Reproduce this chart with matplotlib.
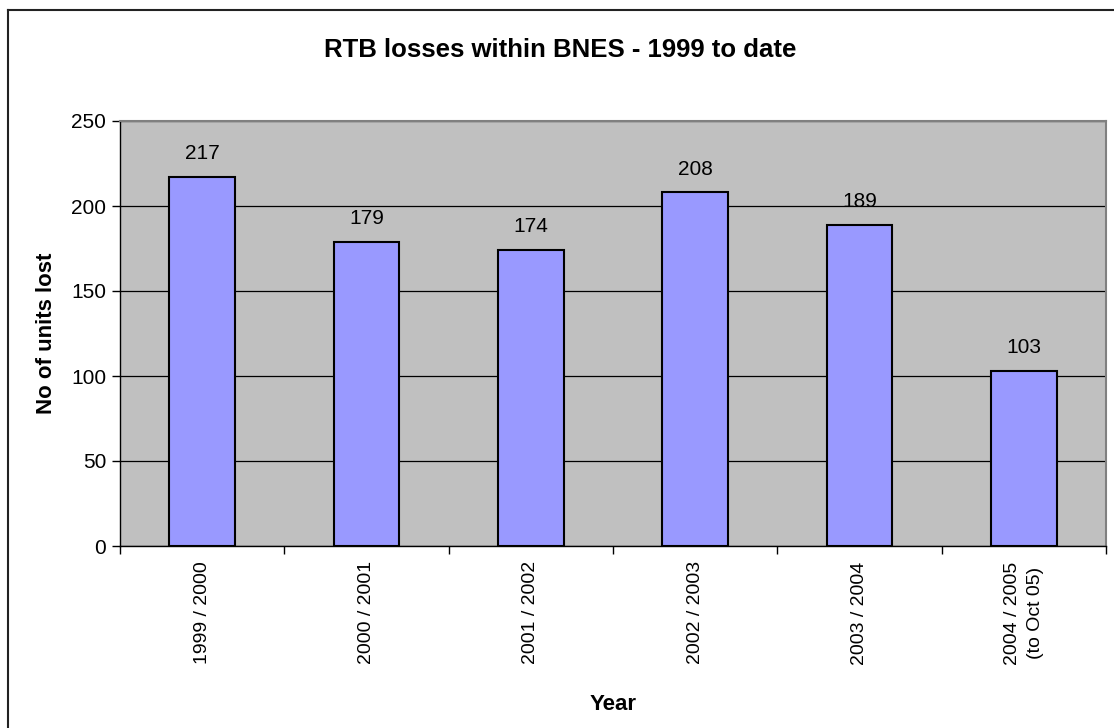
import matplotlib
matplotlib.use("Agg")
import matplotlib.pyplot as plt
from matplotlib.lines import Line2D

categories = ["1999 / 2000", "2000 / 2001", "2001 / 2002", "2002 / 2003",
              "2003 / 2004", "2004 / 2005\n(to Oct 05)"]
values = [217, 179, 174, 208, 189, 103]
yticks = [0, 50, 100, 150, 200, 250]

plt.rcParams['font.family'] = ['Liberation Sans', 'DejaVu Sans']

W, H = 1114, 728
fig = plt.figure(figsize=(W / 100, H / 100), dpi=100)
fig.patch.set_facecolor('white')

L, R, T, B = 120, 1106, 121, 546
ax = fig.add_axes([L / W, 1 - B / H, (R - L) / W, (B - T) / H])
ax.set_facecolor('#C0C0C0')

x = list(range(len(categories)))
ax.bar(x, values, width=0.4, color='#9999FF', edgecolor='black', linewidth=1.5, zorder=3)
for xi, v in zip(x, values):
    ax.annotate(str(v), (xi, v), xytext=(0, 10), textcoords='offset points',
                ha='center', va='bottom', fontsize=15)

ax.set_xlim(-0.5, len(categories) - 0.5)
ax.set_ylim(0, 250)
ax.set_yticks(yticks)
ax.set_yticklabels([str(t) for t in yticks], fontsize=15)
ax.yaxis.grid(True, color='black', linewidth=0.9, zorder=1)
ax.set_axisbelow(True)

ax.set_xticks(x)
ax.set_xticklabels(categories, rotation=90, fontsize=14, multialignment='center',
                   va='top', linespacing=1.45)
ax.tick_params(axis='x', length=0, pad=11)
ax.set_xticks([i - 0.5 for i in range(len(categories) + 1)], minor=True)
ax.tick_params(axis='x', which='minor', length=6, width=1, direction='out', color='black')
ax.tick_params(axis='y', length=6, width=1, direction='out', pad=4)

for s in ['top', 'right']:
    ax.spines[s].set_color('#808080')
    ax.spines[s].set_linewidth(1.5)
for s in ['left', 'bottom']:
    ax.spines[s].set_color('black')
    ax.spines[s].set_linewidth(1)

ax.set_ylabel("No of units lost", fontsize=16, fontweight='bold', labelpad=10)
ax.set_xlabel("Year", fontsize=16, fontweight='bold', labelpad=21)
fig.text(560 / W, 1 - 50 / H, "RTB losses within BNES - 1999 to date",
         ha='center', va='center', fontsize=18.5, fontweight='bold')

# chart border (left and top visible)
fig.add_artist(Line2D([8 / W, 8 / W], [0, 1 - 10 / H], transform=fig.transFigure,
                      color='#222222', linewidth=1.5))
fig.add_artist(Line2D([8 / W, 1], [1 - 10 / H, 1 - 10 / H], transform=fig.transFigure,
                      color='#222222', linewidth=1.5))

fig.savefig("out.png", dpi=100)
